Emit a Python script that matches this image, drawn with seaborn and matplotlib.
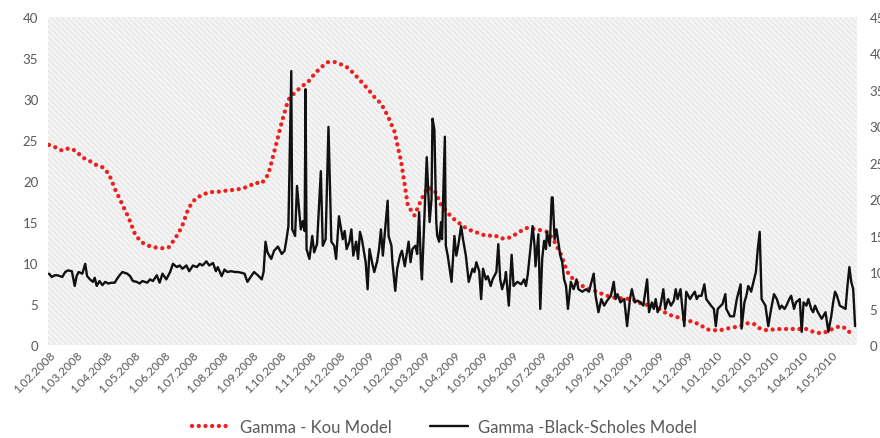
import pandas as pd
import matplotlib
matplotlib.use("Agg")
import matplotlib.pyplot as plt
import matplotlib.dates as mdates
from matplotlib.patches import Rectangle
from matplotlib.ticker import FuncFormatter
import seaborn as sns

# ---- data -------------------------------------------------------------
start = pd.Timestamp("2008-02-01")
kou_end = pd.Timestamp("2010-05-24")

# Gamma under the Kou jump-diffusion model (weekly)
kou_gamma = [
    24.4, 24.1, 23.7, 24.0, 23.7, 22.9, 22.5, 22.0, 21.7, 20.9,
    18.9, 17.2, 15.5, 13.4, 12.5, 12.1, 11.9, 11.8, 11.9, 13.0,
    14.4, 16.7, 17.8, 18.3, 18.6, 18.7, 18.7, 18.9, 18.9, 19.1,
    19.3, 19.8, 19.7, 20.8, 23.9, 27.1, 29.9, 30.8, 31.5, 32.1,
    33.1, 33.9, 34.5, 34.5, 34.2, 33.8, 33.0, 32.1, 31.2, 30.2,
    29.4, 27.9, 26.0, 22.3, 17.0, 15.8, 17.7, 19.2, 18.9, 17.1,
    16.1, 15.3, 14.7, 14.1, 13.85, 13.5, 13.3, 13.4, 13.0, 13.0,
    13.4, 13.9, 14.3, 14.15, 14.0, 13.8, 12.7, 11.1, 8.9, 7.9,
    7.3, 6.9, 6.65, 6.3, 6.0, 5.8, 5.7, 5.65, 5.5, 5.1,
    4.9, 4.7, 4.35, 3.8, 3.5, 3.3, 3.0, 2.8, 2.45, 1.9,
    1.8, 1.8, 2.0, 2.15, 2.3, 2.65, 2.6, 2.0, 1.8, 1.9,
    1.95, 1.95, 1.95, 1.95, 1.95, 1.6, 1.45, 1.6, 2.0, 2.3,
    2.0, 1.0,
]

# Gamma under Black-Scholes: observation day (days after 1 Feb 2008) and value
bs_day = [
    0, 3, 6, 9, 14, 17, 20, 24, 25, 27, 29, 31, 35, 38, 40, 43, 46, 48, 50, 53,
    56, 59, 62, 66, 69, 71, 74, 77, 82, 85, 88, 92, 95, 98, 103, 106, 109, 113, 116, 119,
    123, 127, 130, 134, 137, 140, 144, 147, 151, 155, 158, 161, 165, 168, 172, 175, 177, 181, 184, 187,
    191, 195, 198, 202, 205, 208, 212, 215, 219, 223, 225, 227, 229, 233, 236, 240, 244, 247, 249, 251,
    254, 255, 258, 260, 264, 266, 268, 269, 270, 273, 276, 278, 281, 285, 287, 290, 293, 296, 299, 301,
    304, 308, 310, 312, 315, 317, 319, 322, 324, 326, 328, 332, 334, 336, 339, 341, 344, 346, 348, 350,
    355, 356, 359, 360, 363, 365, 368, 370, 373, 377, 379, 381, 384, 386, 388, 390, 391, 393, 396, 399,
    401, 402, 404, 406, 407, 409, 411, 412, 415, 416, 418, 422, 425, 427, 429, 432, 434, 437, 440, 444,
    446, 448, 451, 453, 455, 458, 460, 463, 465, 469, 471, 473, 475, 478, 479, 482, 485, 487, 491, 495,
    498, 500, 502, 505, 507, 509, 510, 513, 515, 517, 519, 521, 522, 525, 527, 528, 530, 532, 536, 538,
    540, 542, 544, 547, 550, 553, 555, 559, 563, 566, 571, 573, 576, 579, 582, 585, 589, 592, 594, 596,
    599, 603, 606, 609, 611, 614, 617, 620, 623, 627, 629, 632, 634, 636, 638, 641, 644, 646, 649, 652,
    655, 657, 659, 662, 664, 666, 668, 672, 674, 677, 679, 681, 684, 687, 689, 694, 697, 699, 701, 706,
    709, 710, 714, 718, 721, 725, 726, 729, 731, 733, 735, 736, 740, 741, 743, 745, 747, 749, 751, 754,
    757, 760, 763, 766, 768, 771, 773, 776, 778, 781, 783, 787, 789, 791, 794, 796, 799, 801, 803, 806,
    810, 814, 817, 820, 822, 824, 826, 829, 832, 835, 837, 839, 841, 843, 845,
]
bs_gamma = [
    8.7, 8.3, 8.5, 8.5, 8.3, 8.9, 9.1, 9.0, 8.4, 7.2, 8.4, 8.9, 8.7, 9.9, 8.4, 8.0, 7.7, 8.2, 7.2, 7.8,
    7.3, 7.7, 7.5, 7.6, 7.6, 8.0, 8.5, 8.9, 8.7, 8.4, 7.8, 7.7, 7.5, 7.8, 7.6, 8.0, 7.8, 8.5, 7.6, 8.7,
    8.0, 8.9, 9.9, 9.5, 9.7, 9.3, 9.7, 9.0, 9.7, 9.5, 9.9, 9.7, 10.2, 9.7, 10.0, 9.0, 9.5, 8.4, 9.2, 8.9,
    9.0, 8.9, 8.9, 8.8, 8.7, 7.7, 8.4, 8.9, 8.5, 8.0, 8.9, 12.6, 11.3, 10.5, 11.5, 12.0, 11.1, 11.5, 12.9, 14.5,
    33.4, 14.1, 13.3, 19.4, 14.1, 15.1, 13.9, 31.2, 11.7, 10.5, 13.3, 11.3, 12.3, 21.2, 12.1, 12.9, 26.6, 12.6, 12.1, 10.5,
    15.7, 12.9, 13.9, 11.7, 12.6, 14.1, 10.9, 12.6, 10.5, 13.8, 12.9, 10.1, 6.8, 11.7, 9.9, 8.9, 10.2, 11.7, 14.1, 10.9,
    17.6, 13.3, 12.1, 10.1, 6.6, 9.3, 10.9, 11.5, 9.6, 12.6, 10.1, 11.7, 12.1, 11.1, 16.2, 9.3, 8.0, 14.1, 22.9, 15.0,
    17.8, 27.6, 26.3, 15.0, 13.3, 12.6, 15.0, 12.9, 25.4, 12.1, 10.9, 7.7, 13.3, 10.9, 12.1, 14.5, 12.9, 10.9, 7.7, 9.3,
    8.9, 10.1, 9.0, 5.6, 9.3, 8.0, 8.4, 7.2, 8.0, 8.9, 12.3, 8.0, 6.8, 8.0, 8.9, 4.8, 11.0, 7.2, 7.7, 7.4,
    8.0, 7.2, 8.7, 12.1, 14.5, 12.1, 9.6, 13.5, 4.4, 10.5, 12.7, 11.7, 13.8, 12.1, 18.0, 18.0, 12.9, 14.1, 10.9, 10.1,
    8.0, 7.2, 4.4, 7.7, 6.8, 8.0, 6.8, 6.5, 6.8, 6.5, 8.7, 6.0, 4.0, 5.6, 4.8, 5.4, 6.0, 7.7, 5.6, 6.2,
    5.2, 5.6, 2.3, 5.6, 6.8, 5.2, 5.4, 5.2, 4.8, 8.0, 4.0, 5.2, 4.4, 5.6, 4.0, 4.8, 6.8, 4.4, 5.6, 4.8,
    5.4, 6.8, 5.6, 6.8, 4.4, 2.3, 6.5, 5.6, 6.0, 6.5, 5.6, 6.0, 6.0, 7.4, 5.6, 4.8, 4.4, 2.3, 4.4, 5.0,
    6.2, 4.4, 3.5, 3.5, 5.6, 7.4, 2.0, 5.2, 6.0, 7.2, 6.8, 6.5, 8.4, 8.9, 11.7, 13.8, 5.6, 5.2, 4.8, 2.3,
    4.4, 6.2, 5.6, 4.4, 4.8, 4.4, 4.8, 5.6, 6.0, 4.4, 5.2, 5.6, 1.6, 5.2, 4.8, 5.6, 4.4, 4.0, 4.8, 4.0,
    3.2, 4.0, 1.6, 3.5, 5.2, 6.5, 6.0, 4.8, 4.6, 4.4, 7.2, 9.5, 7.7, 6.8, 2.3,
]
assert len(bs_day) == len(bs_gamma)

month_ticks = pd.date_range("2008-02-01", "2010-05-01", freq="MS")
left_ticks = list(range(0, 41, 5))
right_ticks = list(range(0, 46, 5))
series_names = ["Gamma - Kou Model", "Gamma -Black-Scholes Model"]

kou_dates = pd.date_range(start, kou_end, periods=len(kou_gamma))
bs_dates = start + pd.to_timedelta(bs_day, unit="D")

# ---- style ------------------------------------------------------------
sns.set_theme(style="white")
plt.rcParams["font.family"] = ["Lato", "DejaVu Sans"]
plt.rcParams["hatch.linewidth"] = 0.6
plt.rcParams["hatch.color"] = "#e1e1e1"
text_grey = "#595959"

fig = plt.figure(figsize=(8.8, 4.39), dpi=100)
ax = fig.add_axes([48 / 880, 93 / 439, (857 - 48) / 880, (346 - 18) / 439])
ax.set_facecolor("#f4f4f4")
ax.add_patch(Rectangle((0, 0), 1, 1, transform=ax.transAxes, facecolor="none",
                       edgecolor="#e1e1e1", hatch="\\" * 6, linewidth=0, zorder=0))

sns.lineplot(x=kou_dates, y=kou_gamma, ax=ax, color="#ee1f1f", linewidth=3.1,
             linestyle=(0, (0.01, 1.55)), dash_capstyle="round",
             label=series_names[0], zorder=3)
sns.lineplot(x=bs_dates, y=bs_gamma, ax=ax, color="#111111", linewidth=1.7,
             label=series_names[1], zorder=4)

ax.set_xlim(start - pd.Timedelta(days=1), start + pd.Timedelta(days=847))
ax.set_ylim(0, 40)
ax.set_yticks(left_ticks)
ax.set_xticks(month_ticks)
ax.xaxis.set_major_formatter(FuncFormatter(
    lambda v, p: (lambda d: f"{d.day}.{d.month:02d}.{d.year}")(mdates.num2date(v))))
ax.set_xlabel("")
ax.set_ylabel("")
ax.tick_params(axis="x", length=0, pad=3, labelsize=8.5, labelcolor=text_grey)
ax.tick_params(axis="y", length=0, pad=7, labelsize=9.5, labelcolor=text_grey)
for lbl in ax.get_xticklabels():
    lbl.set_rotation(45)
    lbl.set_ha("right")
    lbl.set_rotation_mode("anchor")
for s in ax.spines.values():
    s.set_visible(False)

# secondary scale on the right, running off the figure edge
ax2 = ax.twinx()
ax2.set_ylim(0, 45)
ax2.set_yticks(right_ticks)
ax2.tick_params(axis="y", length=0, pad=9, labelsize=9.5, labelcolor=text_grey)
for s in ax2.spines.values():
    s.set_visible(False)
ax2.grid(False)

handles, labels = ax.get_legend_handles_labels()
ax.get_legend().remove()
leg = fig.legend(handles, labels, loc="center", bbox_to_anchor=(0.505, 11 / 439),
                 ncol=2, frameon=False, fontsize=12, handlelength=2.3,
                 handletextpad=0.6, columnspacing=2.3)
for t in leg.get_texts():
    t.set_color(text_grey)

fig.savefig("out.png", dpi=100)
